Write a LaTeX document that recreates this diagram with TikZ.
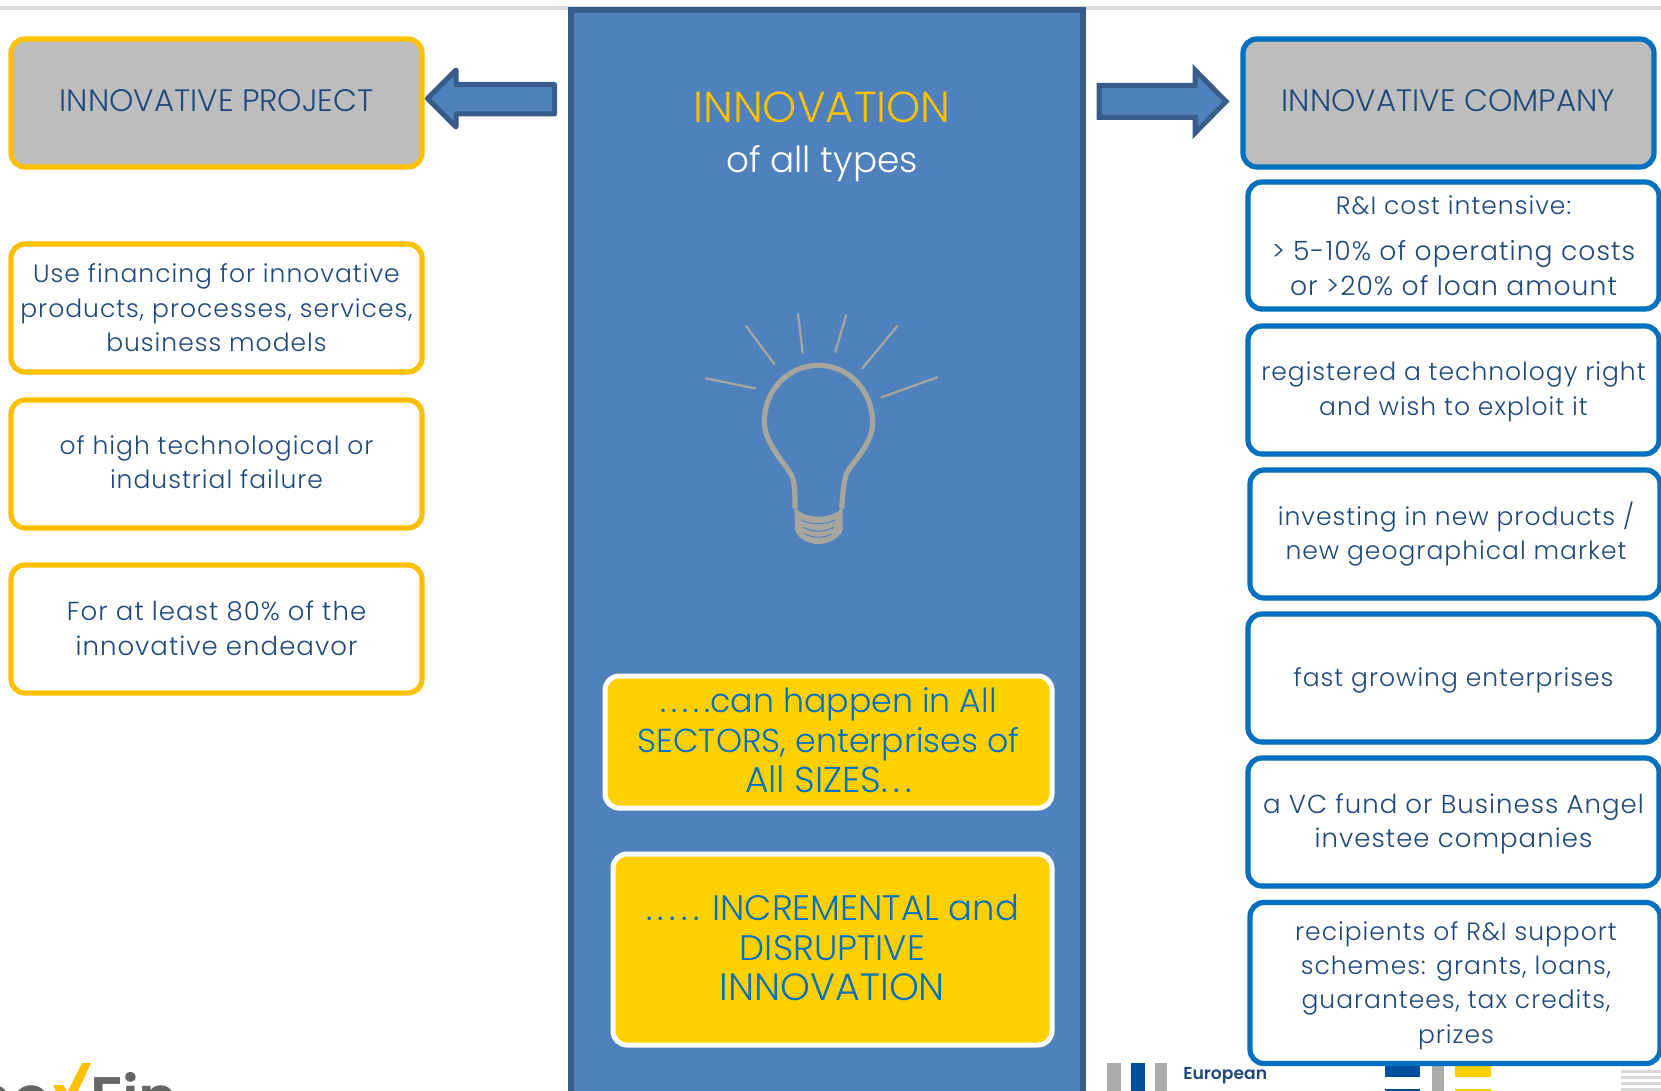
\documentclass[tikz,border=0pt]{standalone}
\usepackage{fontspec}
\setmainfont{Poppins Light}
\newfontfamily\logofont{Poppins SemiBold}
\newfontfamily\bodyf{Poppins Light}[LetterSpace=4]
\newfontfamily\dotsf{Poppins Light}[LetterSpace=15]
\definecolor{txtblue}{HTML}{1F497D}
\definecolor{ybord}{HTML}{FFC000}
\definecolor{bbord}{HTML}{0070C0}
\definecolor{panel}{HTML}{4F81BD}
\definecolor{panelline}{HTML}{385D8A}
\definecolor{hgrey}{HTML}{BDBDBD}
\definecolor{ruleg}{HTML}{D9D9D9}
\definecolor{gold}{HTML}{FFD000}
\definecolor{bulb}{HTML}{A6A69E}
\definecolor{logog}{HTML}{666666}
\definecolor{eib}{HTML}{004F9F}
\definecolor{eibg}{HTML}{ABABAB}
\tikzset{
 x=0.5pt,y=-0.5pt,
 size/.style 2 args={minimum width=#1*0.5pt,minimum height=#2*0.5pt},
 base/.style={draw,rectangle,rounded corners=7pt,line width=2.6pt,inner sep=0pt},
 lbl/.style={inner sep=0pt,align=center,text=txtblue,font=\bodyf\fontsize{12.5}{17.2}\selectfont},
 hlbl/.style={inner sep=0pt,align=center,text=txtblue,font=\fontsize{15.5}{18}\selectfont},
 glbl/.style={inner sep=0pt,align=center,text=bbord,font=\fontsize{16.6}{20}\selectfont},
 yhead/.style={base,draw=ybord,fill=hgrey},
 bhead/.style={base,draw=bbord,fill=hgrey},
 ybox/.style={base,draw=ybord,fill=white},
 bbox/.style={base,draw=bbord,fill=white},
 goldbox/.style={base,draw=white,fill=gold,line width=2.5pt},
 barrow/.style={draw=panelline,fill=panel,line width=2.5pt},
 ray/.style={draw=bulb,line width=1.1pt,line cap=round},
 free/.style={inner sep=0pt,align=center},
}
\newcommand{\dd}[1]{{\dotsf #1}}
\begin{document}
\begin{tikzpicture}
\useasboundingbox (0,0) rectangle (1661,1091);
\begin{scope}
\clip (0,0) rectangle (1661,1091);
\fill[white] (0,0) rectangle (1661,1091);
\draw[ruleg,line width=2pt] (0,8) -- (1661,8);
% logos
\node[free,anchor=base east,text=logog,font=\logofont\fontsize{30}{30}\selectfont] (logoa) at (51,1119) {no};
\node[free,anchor=base west,text=logog,font=\logofont\fontsize{30}{30}\selectfont] (logob) at (90,1119) {Fin};
\fill[ybord] (82,1063) -- (91,1063) -- (78,1091) -- (68,1091) -- cycle;
\fill[ybord] (53,1085) -- (63,1085) -- (67,1091) -- (56,1091) -- cycle;
\fill[eibg] (1107,1063) rectangle (1121,1091);
\fill[eibg] (1155,1063) rectangle (1167,1091);
\fill[eib] (1131,1063) rectangle (1145,1091);
\node[free,anchor=base west,align=left,text=txtblue,font=\logofont\fontsize{8.6}{12}\selectfont] (logoc) at (1183,1103) {European\\Investment};
\fill[eib] (1385,1060) rectangle (1420,1077);
\fill[eib] (1385,1089) rectangle (1420,1091);
\fill[eibg] (1432,1060) rectangle (1444,1091);
\fill[gold] (1455,1060) rectangle (1491,1077);
\fill[gold] (1455,1089) rectangle (1491,1091);
\foreach \yy in {1070,1076,1082,1088}{\fill[ruleg] (1621,\yy) rectangle (1661,\yy+3);}
% panel
\node[draw=panelline,fill=panel,line width=3pt,minimum width=256pt,minimum height=550pt,anchor=north,rectangle,inner sep=0pt] (panelbox) at (827,7.5) {};
\end{scope}
\node[free,text=ybord,font=\fontsize{21.7}{24}\selectfont] (title) at (822,107) {INNOVATION};
\node[free,text=white,font=\fontsize{17.9}{20}\selectfont] (sub) at (822,164) {of all types};
% arrows
\draw[barrow,line join=round] (427.5,98.5) -- (456,70) -- (456,84.5) -- (554.5,84.5) -- (554.5,114) -- (456,114) -- (456,127) -- cycle;
\draw[barrow,line join=miter] (1099,85.5) -- (1195,85.5) -- (1195,70) -- (1226,101.5) -- (1195,133) -- (1195,117.5) -- (1099,117.5) -- cycle;
% headers
\node[yhead,size={411}{128}] (proj) at (216.5,103) {};
\node[hlbl] (projt) at ([yshift=1pt]proj.center) {INNOVATIVE PROJECT};
\node[bhead,size={411}{128}] (comp) at (1448.5,103) {};
\node[hlbl] (compt) at ([yshift=1pt]comp.center) {INNOVATIVE COMPANY};
% left
\node[ybox,size={411}{128}] (l1) at (216.5,308) {};
\node[lbl] (l1t) at (l1.center) {Use financing for innovative\\products, processes, services,\\business models};
\node[ybox,size={411}{128}] (l2) at (216.5,464) {};
\node[lbl] (l2t) at ([yshift=.8pt]l2.center) {of high technological or\\industrial failure};
\node[ybox,size={411}{128}] (l3) at (216.5,629) {};
\node[lbl,font=\bodyf\fontsize{13}{17.2}\selectfont] (l3t) at ([yshift=.3pt]l3.center) {For at least 80\% of the\\innovative endeavor};
% right
\node[bbox,size={411}{127}] (r1) at (1453.5,245.5) {};
\node[lbl] (r1t) at (r1.center) {R\&I cost intensive:\\[6pt]\fontsize{13.3}{17.2}\selectfont > 5-10\% of operating costs\\\fontsize{13.3}{17.2}\selectfont or >20\% of loan amount};
\node[bbox,size={411}{128}] (r2) at (1453.5,390) {};
\node[lbl] (r2t) at ([yshift=-1pt]r2.center) {registered a technology right\\and wish to exploit it};
\node[bbox,size={410}{128}] (r3) at (1455,534) {};
\node[lbl] (r3t) at ([xshift=.5pt]r3.center) {investing in new products /\\new geographical market};
\node[bbox,size={411}{128}] (r4) at (1453.5,678) {};
\node[lbl] (r4t) at ([yshift=-1pt]r4.center) {fast growing enterprises};
\node[bbox,size={411}{128}] (r5) at (1453.5,822) {};
\node[lbl,font=\bodyf\fontsize{13}{17.2}\selectfont] (r5t) at ([yshift=-1pt]r5.center) {a VC fund or Business Angel\\investee companies};
\node[bbox,size={410}{161}] (r6) at (1455,983) {};
\node[lbl] (r6t) at ([xshift=.5pt,yshift=-1.2pt]r6.center) {recipients of R\&I support\\schemes: grants, loans,\\guarantees, tax credits,\\prizes};
% gold
\node[goldbox,size={447}{132}] (g1) at (828.5,742) {};
\node[glbl] (g1t) at ([yshift=.8pt]g1.center) {\dd{.....}can happen in All\\SECTORS, enterprises of\\\fontsize{18}{20}\selectfont All SIZES\dd{...}};
\node[goldbox,size={439}{191}] (g2) at (832.5,949.5) {};
\node[glbl,font=\fontsize{17.7}{20}\selectfont] (g2t) at ([yshift=1pt]g2.center) {\dd{.....} INCREMENTAL and\\DISRUPTIVE\\\fontsize{19}{20}\selectfont INNOVATION};
% bulb
\begin{scope}[shift={(660,290)},x=0.16667pt,y=-0.16667pt]
\foreach \a/\b/\c/\d in {138/265/285/295,258/108/343/222,414/72/428/188,558/76/526/186,712/108/606/236,832/262/664/322}{\draw[ray] (\a,\b) -- (\c,\d);}
\draw[bulb,line width=2.6pt,line join=round] (405,655) .. controls (405,600) and (405,565) .. (385,540)
  .. controls (360,505) and (313,450) .. (313,395)
  .. controls (313,300) and (385,226) .. (475,226)
  .. controls (565,226) and (638,300) .. (638,400)
  .. controls (638,460) and (575,520) .. (560,550)
  .. controls (550,575) and (548,620) .. (545,655);
\fill[bulb] (403,650) .. controls (430,690) and (520,690) .. (548,650) -- (548,720) .. controls (535,750) and (500,762) .. (475,762) .. controls (450,762) and (415,750) .. (405,720) -- cycle;
\draw[panel,line width=0.5pt] (425,690) .. controls (450,705) and (500,705) .. (525,690);
\draw[panel,line width=0.5pt] (430,712) .. controls (455,727) and (495,727) .. (520,712);
\draw[panel,line width=0.5pt] (435,732) .. controls (460,745) and (490,745) .. (515,732);
\end{scope}
\end{tikzpicture}
\end{document}
